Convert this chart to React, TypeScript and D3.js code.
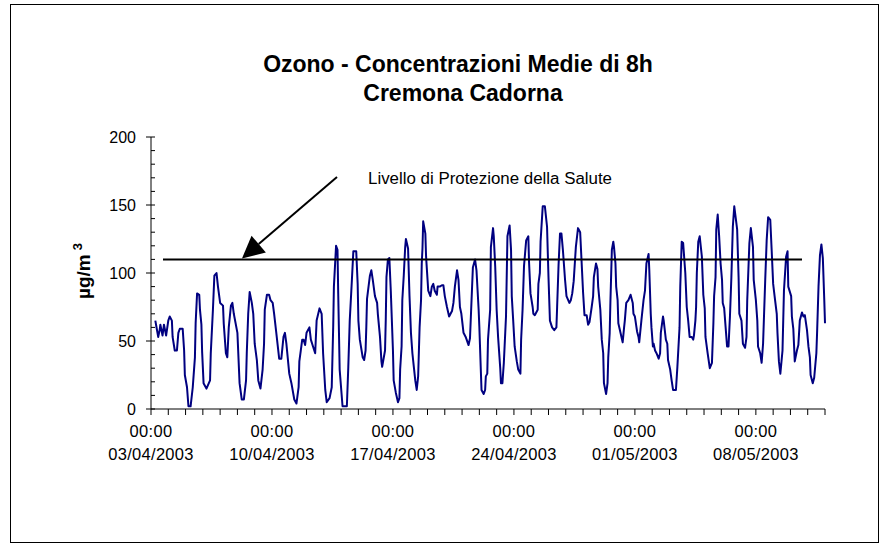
import React from "react";
import * as d3 from "d3";

const TITLE_LINES = ["Ozono - Concentrazioni Medie di 8h", "Cremona Cadorna"];
const Y_LABEL = "µg/m";
const Y_LABEL_SUP = "3";
const LEVEL_LABEL = "Livello di Protezione della Salute";
const LEVEL_VALUE = 110;
const START = Date.UTC(2003, 3, 3);
const END = Date.UTC(2003, 4, 12);
const Y_MAJOR = [0, 50, 100, 150, 200];
const Y_MINOR = [10, 20, 30, 40, 60, 70, 80, 90, 110, 120, 130, 140, 160, 170, 180, 190];
const X_LABEL_DATES = ["2003-04-03", "2003-04-10", "2003-04-17", "2003-04-24", "2003-05-01", "2003-05-08"];

// hours after 03/04/2003 00:00
const HOURS = [
  6, 8, 10, 12, 13, 16, 18, 21, 24, 26, 29, 30, 33, 36, 38, 40, 44, 46, 47, 50, 52, 55, 58, 61, 62, 64, 67, 68, 70, 71, 73, 77, 82, 83, 86, 88, 91, 93, 96, 100,
  101, 104, 106, 108, 111, 113, 115, 120, 123, 126, 129, 132, 133, 135, 137, 140, 142, 144, 147, 149, 152, 155, 157, 158, 161, 164, 166, 169, 171, 174, 178, 181,
  184, 186, 188, 192, 195, 199, 202, 205, 206, 208, 210, 212, 214, 216, 220, 222, 225, 228, 230, 234, 237, 239, 242, 244, 248, 251, 253, 254, 257, 259, 260, 262,
  266, 272, 274, 276, 279, 281, 285, 287, 288, 290, 294, 296, 298, 299, 300, 304, 306, 308, 311, 314, 315, 318, 320, 321, 325, 326, 327, 329, 331, 333, 336, 337,
  340, 343, 345, 346, 348, 349, 351, 353, 354, 357, 359, 361, 363, 365, 367, 369, 371, 373, 375, 376, 377, 378, 381, 382, 385, 388, 390, 392, 394, 397, 398, 401,
  404, 406, 408, 411, 414, 418, 420, 422, 425, 427, 429, 431, 434, 437, 441, 443, 447, 450, 452, 455, 456, 458, 459, 462, 464, 465, 467, 468, 471, 472, 475, 476,
  478, 480, 482, 485, 486, 488, 490, 493, 495, 498, 500, 501, 503, 505, 508, 510, 513, 514, 516, 518, 521, 524, 525, 527, 530, 531, 533, 537, 538, 540, 541, 544,
  547, 550, 552, 554, 557, 560, 563, 564, 566, 568, 570, 572, 575, 577, 581, 583, 585, 587, 590, 593, 596, 598, 600, 602, 605, 607, 609, 612, 614, 615, 618, 620,
  621, 624, 626, 628, 629, 632, 634, 635, 637, 638, 640, 642, 643, 645, 646, 648, 649, 652, 655, 657, 658, 660, 663, 666, 669, 670, 672, 675, 677, 678, 681, 684,
  686, 688, 691, 692, 694, 695, 697, 698, 700, 702, 705, 707, 708, 711, 712, 715, 717, 718, 721, 723, 725, 729, 731, 734, 735, 737, 739, 742, 744, 746, 748, 751,
  753, 754, 756, 757, 758, 760, 762, 765, 767, 769, 770, 773, 776, 779, 781, 782, 784, 785, 787, 789, 791, 793, 794, 796, 798, 800, 802, 804, 806, 808, 810, 814,
  816, 817, 820, 822, 825, 827, 828, 831, 833, 836, 837, 840, 842, 843, 846, 848, 850, 853, 855, 857, 860, 862, 864, 866, 869, 870, 872, 874, 877, 879, 882, 884,
  885, 889, 890, 892, 894, 897, 899, 901, 904, 906, 908, 911, 913, 915, 916, 919, 921, 924, 925, 927, 929, 931, 933, 935, 936,
];

// 8h mean ozone concentration, µg/m³
const VALUES = [
  65, 59, 53, 58, 62, 54, 62, 54, 65, 68, 65, 53, 43, 43, 56, 59, 59, 43, 25, 16, 2, 2, 16, 38, 63, 85, 84, 73, 62, 42, 19, 15, 21, 41, 73, 98, 100, 90, 78, 76,
  63, 41, 38, 60, 76, 78, 70, 56, 19, 7, 7, 21, 41, 70, 86, 78, 70, 48, 36, 21, 15, 29, 48, 73, 84, 84, 80, 78, 70, 56, 37, 37,
  53, 56, 48, 26, 19, 7, 4, 16, 35, 43, 51, 51, 47, 56, 60, 51, 46, 41, 65, 74, 70, 41, 14, 5, 8, 16, 60, 90, 120, 117, 85, 29,
  2, 2, 31, 65, 95, 116, 116, 92, 65, 51, 38, 36, 43, 60, 81, 98, 102, 95, 83, 78, 70, 53, 35, 31, 43, 65, 97, 110, 111, 87, 43, 21,
  12, 5, 8, 29, 46, 80, 98, 119, 125, 118, 83, 56, 41, 31, 21, 14, 24, 60, 80, 107, 118, 138, 129, 112, 87, 83, 90, 92, 87, 84, 90, 90,
  91, 91, 83, 75, 68, 72, 78, 90, 102, 95, 75, 70, 56, 53, 47, 52, 104, 110, 102, 73, 60, 29, 14, 11, 14, 24, 26, 51, 73, 119, 133, 127,
  105, 73, 53, 30, 19, 19, 34, 68, 127, 135, 117, 83, 65, 46, 35, 29, 26, 51, 73, 105, 124, 127, 108, 85, 75, 70, 69, 73, 92, 100, 123, 149,
  149, 134, 97, 65, 60, 58, 60, 75, 106, 129, 129, 117, 95, 83, 78, 80, 85, 94, 119, 133, 130, 108, 86, 69, 69, 62, 64, 75, 83, 97, 107, 103,
  90, 73, 51, 41, 19, 11, 19, 38, 56, 79, 117, 123, 119, 107, 90, 80, 63, 56, 49, 60, 65, 78, 80, 84, 78, 70, 68, 57, 53, 49, 65, 80,
  87, 107, 114, 102, 70, 60, 46, 48, 43, 41, 37, 41, 56, 68, 65, 51, 48, 36, 29, 21, 14, 14, 31, 60, 90, 123, 122, 100, 75, 65, 53, 53,
  51, 54, 65, 75, 100, 123, 127, 112, 84, 74, 53, 41, 30, 34, 63, 83, 97, 132, 143, 127, 107, 95, 78, 74, 60, 46, 46, 68, 97, 134, 149, 132,
  97, 70, 65, 48, 45, 53, 80, 122, 133, 119, 95, 80, 65, 46, 41, 34, 48, 95, 124, 141, 139, 116, 92, 83, 70, 56, 35, 26, 43, 87, 112, 116,
  90, 83, 68, 59, 35, 43, 47, 65, 71, 68, 69, 58, 46, 38, 25, 19, 23, 41, 56, 90, 113, 121, 111, 80, 63,
];

const FONT = "'Liberation Sans', Arial, Helvetica, sans-serif";

export default function App() {
  const x = d3.scaleUtc().domain([new Date(START), new Date(END)]).range([151, 825]);
  const y = d3.scaleLinear().domain([0, 200]).range([409, 137]);
  const data: [Date, number][] = HOURS.map((h, i) => [new Date(START + h * 3600 * 1000), VALUES[i]]);
  const line = d3
    .line<[Date, number]>()
    .x((d) => x(d[0]))
    .y((d) => y(d[1]));
  const days = d3.utcDay.range(new Date(START), new Date(END + 1000));
  const fmtTime = d3.utcFormat("%H:%M");
  const fmtDate = d3.utcFormat("%d/%m/%Y");
  const labelDates = X_LABEL_DATES.map((s) => new Date(s + "T00:00:00Z"));

  // arrow geometry
  const tip = { x: 242, y: y(LEVEL_VALUE) - 1 };
  const tail = { x: 337, y: 177 };
  const dx = tail.x - tip.x;
  const dy = tail.y - tip.y;
  const len = Math.hypot(dx, dy);
  const ux = dx / len;
  const uy = dy / len;
  const headLen = 22;
  const headHalf = 11;
  const bx = tip.x + ux * headLen;
  const by = tip.y + uy * headLen;
  const c1 = [bx + -uy * headHalf, by + ux * headHalf];
  const c2 = [bx - -uy * headHalf, by - ux * headHalf];

  return (
    <svg
      width={885}
      height={544}
      style={{ position: "absolute", left: 0, top: 0, background: "#fff" }}
      fontFamily={FONT}
    >
      <rect x={0} y={0} width={885} height={544} fill="#fff" />
      <rect x={10.5} y={4.5} width={868} height={538} fill="none" stroke="#000" strokeWidth={1} />

      {/* Title */}
      <text x={458} y={72} textAnchor="middle" fontSize={23} fontWeight="bold">
        {TITLE_LINES[0]}
      </text>
      <text x={463} y={101} textAnchor="middle" fontSize={23} fontWeight="bold">
        {TITLE_LINES[1]}
      </text>

      {/* Y axis */}
      <line x1={151} x2={151} y1={y(200)} y2={y(0)} stroke="#000" strokeWidth={1} />
      {Y_MAJOR.map((v) => (
        <g key={"ym" + v}>
          <line x1={146} x2={155} y1={y(v)} y2={y(v)} stroke="#000" strokeWidth={1} />
          <text x={136} y={y(v)} dy="0.36em" textAnchor="end" fontSize={16}>
            {v}
          </text>
        </g>
      ))}
      {Y_MINOR.map((v) => (
        <line key={"yn" + v} x1={151} x2={155} y1={y(v)} y2={y(v)} stroke="#000" strokeWidth={1} />
      ))}
      <text
        transform={`translate(90, ${271}) rotate(-90)`}
        textAnchor="middle"
        fontSize={19}
        fontWeight="bold"
      >
        {Y_LABEL}
        <tspan dx={4} dy={-8} fontSize={13}>
          {Y_LABEL_SUP}
        </tspan>
      </text>

      {/* X axis */}
      <line x1={151} x2={825} y1={y(0)} y2={y(0)} stroke="#000" strokeWidth={1} />
      {days.map((d, i) => (
        <line key={"xd" + i} x1={x(d)} x2={x(d)} y1={y(0)} y2={y(0) + 6} stroke="#000" strokeWidth={1} />
      ))}
      {labelDates.map((d, i) => (
        <g key={"xl" + i}>
          <text x={x(d)} y={437} textAnchor="middle" fontSize={16.5} letterSpacing={0.3}>
            {fmtTime(d)}
          </text>
          <text x={x(d)} y={460} textAnchor="middle" fontSize={16.5} letterSpacing={0.3}>
            {fmtDate(d)}
          </text>
        </g>
      ))}

      {/* Series */}
      <path d={line(data) || ""} fill="none" stroke="#000080" strokeWidth={2} strokeLinejoin="round" />

      {/* Level line */}
      <line x1={163} x2={802} y1={y(LEVEL_VALUE)} y2={y(LEVEL_VALUE)} stroke="#000" strokeWidth={2} />

      {/* Arrow */}
      <line x1={tail.x} y1={tail.y} x2={bx} y2={by} stroke="#000" strokeWidth={2} />
      <polygon points={`${tip.x},${tip.y} ${c1[0]},${c1[1]} ${c2[0]},${c2[1]}`} fill="#000" />
      <text x={368} y={184} fontSize={16} textLength={244} lengthAdjust="spacingAndGlyphs">
        {LEVEL_LABEL}
      </text>
    </svg>
  );
}
